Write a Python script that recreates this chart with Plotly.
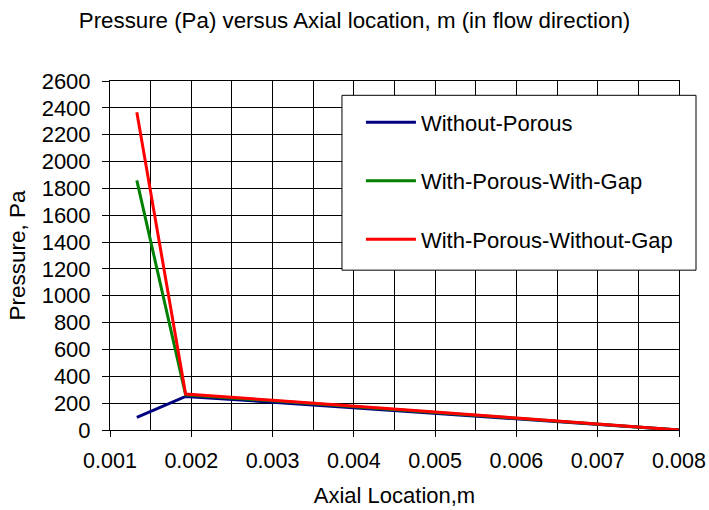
import plotly.graph_objects as go

# Data
axial_location = [0.00133, 0.00193, 0.003, 0.004, 0.005, 0.006, 0.007, 0.008]
without_porous = [94, 250, 207, 165, 123, 82, 41, 0]
with_porous_with_gap = [1860, 262, 217, 176, 131, 87, 44, 0]
with_porous_without_gap = [2368, 268, 222, 180, 134, 89, 45, 0]

series_names = ["Without-Porous", "With-Porous-With-Gap", "With-Porous-Without-Gap"]
series_values = [without_porous, with_porous_with_gap, with_porous_without_gap]
series_colors = ["#000080", "#008000", "#FF0000"]

x_ticks = [0.001, 0.002, 0.003, 0.004, 0.005, 0.006, 0.007, 0.008]
x_tick_labels = ["0.001", "0.002", "0.003", "0.004", "0.005", "0.006", "0.007", "0.008"]

FONT = "Liberation Sans, Arial, sans-serif"

fig = go.Figure()
for i, (name, vals, col) in enumerate(zip(series_names, series_values, series_colors)):
    fig.add_trace(go.Scatter(
        x=axial_location, y=vals, name=name, mode="lines",
        line=dict(color=col, width=3), legendgroup=f"g{i}",
    ))

# legend frame
fig.add_shape(type="rect", xref="paper", yref="paper",
              x0=0.4077, x1=1.0299, y0=0.458, y1=0.959,
              fillcolor="white", line=dict(color="black", width=1), layer="above")

fig.update_layout(
    width=709, height=510,
    margin=dict(l=110, r=30, t=81, b=80, autoexpand=False),
    paper_bgcolor="white", plot_bgcolor="white",
    font=dict(family=FONT, size=21, color="black"),
    title=dict(text="Pressure (Pa) versus Axial location, m (in flow direction)",
               x=0.5, xref="container", xanchor="center",
               y=0.961, yref="container", yanchor="middle",
               font=dict(family=FONT, size=22.3, color="black")),
    showlegend=True,
    legend=dict(x=0.441, y=0.9417, xanchor="left", yanchor="top",
                bgcolor="rgba(0,0,0,0)", borderwidth=0,
                font=dict(family=FONT, size=22, color="black"),
                tracegroupgap=27, itemwidth=50),
)
fig.update_xaxes(
    range=[0.001, 0.008], tickvals=x_ticks, ticktext=x_tick_labels,
    showgrid=True, gridcolor="black", gridwidth=1,
    minor=dict(dtick=0.0005, tick0=0.001, showgrid=True, gridcolor="black", gridwidth=1, ticks=""),
    ticks="outside", ticklen=6, tickcolor="black", ticklabelstandoff=5,
    showline=True, linecolor="black", linewidth=1, mirror=True,
    zeroline=False, automargin=False,
    tickfont=dict(family=FONT, size=21.5),
    title=dict(text="Axial Location,m", font=dict(family=FONT, size=22), standoff=15),
)
fig.update_yaxes(
    range=[0, 2600], dtick=200,
    showgrid=True, gridcolor="black", gridwidth=1,
    ticks="outside", ticklen=7, tickcolor="black", ticklabelstandoff=7,
    showline=True, linecolor="black", linewidth=1, mirror=True,
    zeroline=False, automargin=False,
    tickfont=dict(family=FONT, size=22),
    title=dict(text="Pressure, Pa", font=dict(family=FONT, size=22.5), standoff=9),
)

fig.write_html("out.html", config={"displayModeBar": False},
               post_script="document.body.style.margin='0';document.body.style.overflow='hidden';")
